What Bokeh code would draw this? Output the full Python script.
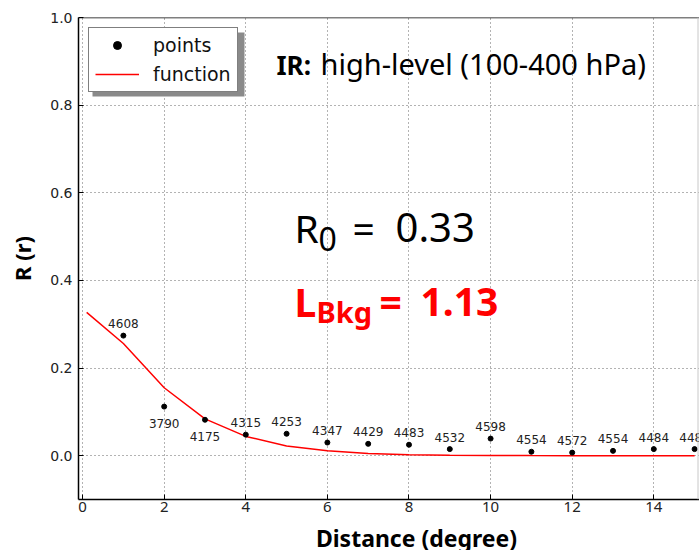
import math
import numpy as np
from bokeh.plotting import figure
from bokeh.layouts import column
from bokeh.models import (Range1d, FixedTicker, PrintfTickFormatter, Label, Legend,
                          LegendItem, Span, BoxAnnotation, ColumnDataSource)
from bokeh.core.properties import value
from bokeh.embed import file_html
from bokeh.resources import INLINE

# ---------------- data ----------------
distance = [1, 2, 3, 4, 5, 6, 7, 8, 9, 10, 11, 12, 13, 14, 15]
correlation = [0.274, 0.112, 0.082, 0.048, 0.050, 0.030, 0.027, 0.025,
               0.015, 0.039, 0.009, 0.007, 0.011, 0.015, 0.015]
pair_counts = ["4608", "3790", "4175", "4315", "4253", "4347", "4429", "4483",
               "4532", "4598", "4554", "4572", "4554", "4484", "4483"]
fit_distance = [0.1, 1, 2, 3, 4, 5, 6, 7, 8, 9, 10, 11, 12, 13, 14, 15]
fit_values = [0.327, 0.256, 0.155, 0.084, 0.044, 0.022, 0.011, 0.005,
              0.002, 0.001, 0.0005, 0.0002, 0.0001, 0.0, 0.0, 0.0]
x_ticks = [0, 2, 4, 6, 8, 10, 12, 14]
y_ticks = [0.0, 0.2, 0.4, 0.6, 0.8, 1.0]
r0_text = "0.33"
lbkg_text = "1.13"
title_bold = "IR:"
title_rest = "high-level (100-400 hPa)"
x_label = "Distance (degree)"
y_label = "R (r)"

# ---------------- layout ----------------
W, H = 699, 550
H_MAIN = 522                      # main chart; a 28 px strip below holds the x title
FL, FR, FT, FB = 78, 699, 17, 499
XS, XE = -0.1, 15.12
YS, YE = -0.1, 1.0


def xd(px):
    return XS + (px - FL) * (XE - XS) / (FR - FL)


def yd(py):
    return YE - (py - FT) * (YE - YS) / (FB - FT)


p = figure(width=W, height=H_MAIN, x_range=Range1d(XS, XE), y_range=Range1d(YS, YE),
           output_backend="svg", toolbar_location=None,
           min_border_left=FL, min_border_right=W - FR,
           min_border_top=FT, min_border_bottom=H_MAIN - FB)
p.background_fill_color = "white"
p.border_fill_color = "white"
p.outline_line_color = None

p.xaxis.ticker = FixedTicker(ticks=x_ticks)
p.yaxis.ticker = FixedTicker(ticks=y_ticks)
p.yaxis.formatter = PrintfTickFormatter(format="%.1f")
p.axis.minor_tick_line_color = None
p.axis.major_tick_in = 5
p.axis.major_tick_out = 0
p.axis.axis_line_width = 1.5
p.axis.axis_line_color = "black"
p.axis.major_tick_line_color = "black"
p.xaxis.major_label_text_font = "Noto Sans"
p.xaxis.major_label_text_font_size = "15px"
p.yaxis.major_label_text_font = "DejaVu Sans"
p.yaxis.major_label_text_font_size = "14px"
p.axis.major_label_text_color = "#222222"
p.xaxis.major_label_standoff = 2
p.yaxis.major_label_standoff = 6

p.yaxis.axis_label = y_label
p.yaxis.axis_label_text_font = "Noto Sans"
p.yaxis.axis_label_text_font_style = "bold"
p.yaxis.axis_label_text_font_size = "22px"
p.yaxis.axis_label_text_color = "black"
p.yaxis.axis_label_standoff = 10

p.grid.grid_line_color = "#666666"
p.grid.grid_line_dash = "1 3"
p.grid.grid_line_width = 1

# frame top / right
p.add_layout(Span(location=YE, dimension="width", line_color="black", line_width=1.5))
p.add_layout(Span(location=xd(697.5), dimension="height", line_color="#c8c8c8", line_width=1))

# fitted function
ln = p.line(fit_distance, fit_values, line_color="#ff0000", line_width=1.5)

# points
pts = p.scatter(distance, correlation, size=5, color="black")

# count labels: below the point when it lies under the function, else above
fit_at = np.interp(distance, fit_distance, fit_values)
above = [c >= f for c, f in zip(correlation, fit_at)]
src_a = ColumnDataSource(dict(x=[d for d, a in zip(distance, above) if a],
                              y=[c for c, a in zip(correlation, above) if a],
                              t=[n for n, a in zip(pair_counts, above) if a]))
src_b = ColumnDataSource(dict(x=[d for d, a in zip(distance, above) if not a],
                              y=[c for c, a in zip(correlation, above) if not a],
                              t=[n for n, a in zip(pair_counts, above) if not a]))
for src, off in ((src_a, -12), (src_b, 17)):
    p.text("x", "y", text="t", source=src, text_font=value("DejaVu Sans"),
           text_font_size="12px", text_align="center", text_baseline="middle",
           y_offset=off, text_color="#222222")

# legend shadow + legend
p.add_layout(BoxAnnotation(left=xd(92), right=xd(244), top=yd(32), bottom=yd(96),
                           fill_color="#8a8a8a", fill_alpha=1.0, line_alpha=0))
legend = Legend(items=[LegendItem(label="points", renderers=[pts]),
                       LegendItem(label="function", renderers=[ln])],
                location="top_left", margin=10, padding=6, spacing=7,
                glyph_width=44, glyph_height=20, label_standoff=14,
                label_text_font="DejaVu Sans", label_text_font_size="19px",
                label_text_color="#111111",
                border_line_color="black", border_line_width=1.5,
                background_fill_color="white", background_fill_alpha=1.0)
p.add_layout(legend)


def add_text(fig, x, y, text, size, color="black", bold=False, align="left"):
    fig.add_layout(Label(x=x, y=y, text=text, text_font="Noto Sans",
                         text_font_style="bold" if bold else "normal",
                         text_font_size=f"{size}px", text_color=color,
                         text_baseline="alphabetic", text_align=align))


def add_px(px, baseline_py, text, size, color="black", bold=False):
    # rendered baseline sits ~0.41 em below the anchor, so lift the anchor
    add_text(p, xd(px), yd(baseline_py - 0.41 * size), text, size, color, bold)


# title
add_px(276, 75, title_bold, 26, bold=True)
add_px(320, 75, title_rest, 29)

# R0 annotation
add_px(294, 243, "R", 39)
add_px(318, 252, "0", 32)
add_px(352, 243, "=", 39)
add_px(395, 243, r0_text, 40)

# L_Bkg annotation
add_px(294, 317, "L", 39, "#ff0000", True)
add_px(316, 323, "Bkg", 29, "#ff0000", True)
add_px(379, 317, "=", 39, "#ff0000", True)
add_px(420, 317, lbkg_text, 39, "#ff0000", True)

# strip below with the x-axis title (its lower part runs off the page, as in the source)
# the column aligns this strip's frame with the chart frame (pixels FL..FR)
H_STRIP = H - H_MAIN
q = figure(width=W, height=H_STRIP, x_range=Range1d(FL, FR), y_range=Range1d(0, H_STRIP),
           output_backend="svg", toolbar_location=None, min_border=0,
           x_axis_location=None, y_axis_location=None)
q.grid.visible = False
q.outline_line_color = None
q.background_fill_color = "white"
q.border_fill_color = "white"
add_text(q, 416, (H - 547) + 0.41 * 23, x_label, 23, bold=True, align="center")

layout = column(p, q, spacing=0)
open("out.html", "w").write(file_html(layout, INLINE))
